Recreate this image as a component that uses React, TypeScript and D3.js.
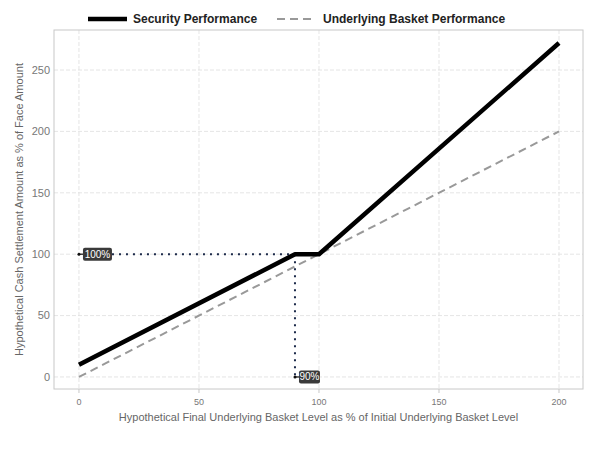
import React from "react";
import * as d3 from "d3";

const basketLevels = [0, 90, 100, 200];
const securityValues = [10, 100, 100, 272];
const underlyingValues = [0, 90, 100, 200];
const xTicks = [0, 50, 100, 150, 200];
const yTicks = [0, 50, 100, 150, 200, 250];
const legendLabels = ["Security Performance", "Underlying Basket Performance"];
const annotations = [
  { x: 0, y: 100, label: "100%" },
  { x: 90, y: 0, label: "90%" },
];
const kink = { x: 90, y: 100 };

const W = 600, H = 450;
const left = 54, right = 583, top = 30, bottom = 389;

export default function App() {
  const x = d3.scaleLinear().domain([-10.4, 210]).range([left, right]);
  const y = d3.scaleLinear().domain([-9.8, 282.6]).range([bottom, top]);
  const line = d3.line<number>().x((_, i) => x(basketLevels[i])).y((d) => y(d));
  const font = "Liberation Sans, Arial, sans-serif";

  return (
    <svg width={W} height={H} style={{ position: "absolute", left: 0, top: 0, background: "#fff" }} fontFamily={font}>
      {/* grid */}
      {xTicks.map((t) => (
        <line key={"gx" + t} x1={x(t)} x2={x(t)} y1={top} y2={bottom} stroke="#dedede" strokeWidth={0.8} strokeDasharray="4,2" />
      ))}
      {yTicks.map((t) => (
        <line key={"gy" + t} x1={left} x2={right} y1={y(t)} y2={y(t)} stroke="#dedede" strokeWidth={0.8} strokeDasharray="4,2" />
      ))}
      <rect x={left} y={top} width={right - left} height={bottom - top} fill="none" stroke="#c8c8c8" strokeWidth={1} />
      {/* x ticks */}
      {xTicks.map((t) => (
        <g key={"tx" + t}>
          <line x1={x(t)} x2={x(t)} y1={bottom} y2={bottom + 4} stroke="#c8c8c8" />
          <text x={x(t)} y={bottom + 16} textAnchor="middle" fontSize={9} fill="#777">{t}</text>
        </g>
      ))}
      {yTicks.map((t) => (
        <text key={"ty" + t} x={left - 4} y={y(t)} dy="0.35em" textAnchor="end" fontSize={11} fill="#777">{t}</text>
      ))}
      {/* axis titles */}
      <text x={(left + right) / 2} y={421} textAnchor="middle" fontSize={11} fill="#666">
        Hypothetical Final Underlying Basket Level as % of Initial Underlying Basket Level
      </text>
      <text transform={`translate(23,${(top + bottom) / 2}) rotate(-90)`} textAnchor="middle" fontSize={11} fill="#666">
        Hypothetical Cash Settlement Amount as % of Face Amount
      </text>
      {/* dotted guides */}
      <line x1={x(annotations[0].x) + 33} x2={x(kink.x)} y1={y(kink.y)} y2={y(kink.y)} stroke="#1c2a4a" strokeWidth={2} strokeDasharray="2,5" />
      <line x1={x(kink.x)} x2={x(kink.x)} y1={y(kink.y)} y2={y(0)} stroke="#1c2a4a" strokeWidth={2} strokeDasharray="2,5" />
      {/* lines */}
      <path d={line(underlyingValues) || ""} fill="none" stroke="#999" strokeWidth={2} strokeDasharray="8,5" />
      <path d={line(securityValues) || ""} fill="none" stroke="#000" strokeWidth={4.5} strokeLinejoin="round" />
      {/* annotations */}
      {annotations.map((a, i) => {
        const ax = x(a.x), ay = y(a.y);
        const bw = i === 0 ? 29 : 21;
        return (
          <g key={a.label}>
            <circle cx={ax} cy={ay} r={1.5} fill="#111" />
            <line x1={ax} x2={ax + 5} y1={ay} y2={ay} stroke="#111" strokeWidth={1.2} />
            <rect x={ax + 4} y={ay - 6.5} width={bw} height={13} rx={2} fill="#3a3a3a" />
            <text x={ax + 4 + bw / 2} y={ay} dy="0.35em" textAnchor="middle" fontSize={10} fill="#fff">{a.label}</text>
          </g>
        );
      })}
      {/* legend */}
      <line x1={88} x2={127} y1={19} y2={19} stroke="#000" strokeWidth={4.5} />
      <text x={133} y={19} dy="0.35em" fontSize={12} fontWeight="bold" fill="#222">{legendLabels[0]}</text>
      <line x1={277} x2={315} y1={19} y2={19} stroke="#999" strokeWidth={2} strokeDasharray="8,5" />
      <text x={323} y={19} dy="0.35em" fontSize={12} fontWeight="bold" fill="#222">{legendLabels[1]}</text>
    </svg>
  );
}
